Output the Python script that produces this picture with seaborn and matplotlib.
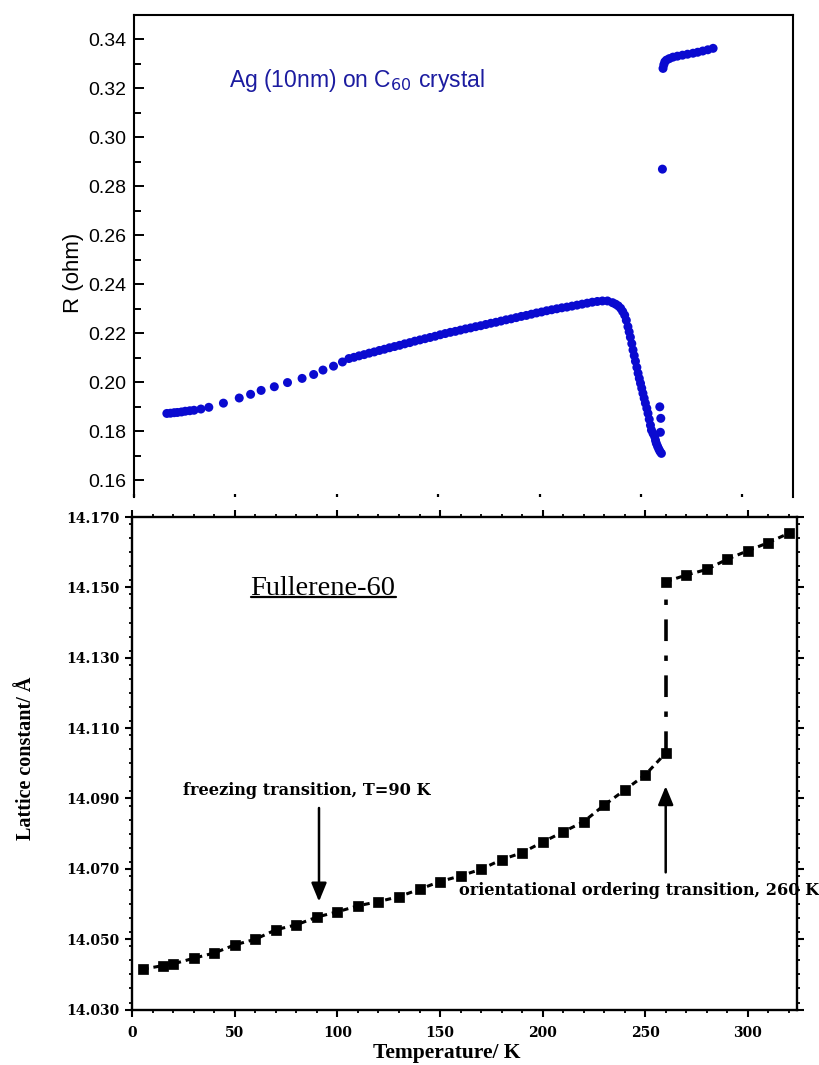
import matplotlib
matplotlib.use("Agg")
import numpy as np
import pandas as pd
import matplotlib.pyplot as plt
import seaborn as sns
from matplotlib.ticker import MultipleLocator, NullFormatter
from matplotlib.lines import Line2D

# ---------------- top panel data: R(T) of Ag (10nm) on C60 ----------------
temp_r = [16.2, 18.0, 19.8, 21.4, 23.4, 25.3, 27.5, 29.6, 33.0, 36.9, 44.1, 51.9,
          57.5, 62.7, 69.2, 75.7, 82.9, 88.6, 93.2, 98.4, 102.8,
          106.0, 108.5, 111.0, 113.5, 116.0, 118.5, 121.0, 123.5, 126.0, 128.5,
          131.0, 133.5, 136.0, 138.5, 141.0, 143.5, 146.0, 148.5, 151.0, 153.5,
          156.0, 158.5, 161.0, 163.5, 166.0, 168.5, 171.0, 173.5, 176.0, 178.5,
          181.0, 183.5, 186.0, 188.5, 191.0, 193.5, 196.0, 198.5, 201.0, 203.5,
          206.0, 208.5, 211.0, 213.5, 216.0, 218.5, 221.0, 223.5, 226.0, 228.5,
          231.0, 233.5,
          236.0, 237.5, 238.8, 240.0, 241.0, 242.0, 242.8, 243.6, 244.2, 244.8,
          245.5, 246.1, 246.7, 247.3, 248.0, 248.6, 249.2, 249.8, 250.4, 251.0,
          251.6, 252.2, 252.9, 253.5, 254.1, 254.7, 255.2, 256.0, 256.8, 257.2,
          257.6, 258.2, 258.8, 259.4, 260.1,
          259.3, 259.8, 259.6,
          260.6,
          260.9, 261.3, 261.8, 262.6, 264.0, 265.8, 268.0, 270.5, 273.0, 275.7,
          278.0, 280.5, 283.0, 285.6]
res_r = [0.1872, 0.1873, 0.1875, 0.1876, 0.1878, 0.1881, 0.1883, 0.1885, 0.1890,
         0.1897, 0.1914, 0.1935, 0.1950, 0.1966, 0.1981, 0.1998, 0.2015, 0.2031,
         0.2049, 0.2065, 0.2082,
         0.2096, 0.2101, 0.2107, 0.2112, 0.2118, 0.2123, 0.2129, 0.2134, 0.2140,
         0.2145, 0.2150, 0.2156, 0.2161, 0.2167, 0.2172, 0.2177, 0.2182, 0.2187,
         0.2193, 0.2198, 0.2203, 0.2207, 0.2212, 0.2217, 0.2221, 0.2226, 0.2230,
         0.2235, 0.2240, 0.2244, 0.2249, 0.2254, 0.2258, 0.2263, 0.2268, 0.2272,
         0.2277, 0.2282, 0.2286, 0.2291, 0.2295, 0.2299, 0.2303, 0.2306, 0.2310,
         0.2314, 0.2318, 0.2322, 0.2326, 0.2329, 0.2331, 0.2331,
         0.2324, 0.2318, 0.2311, 0.2301, 0.2288, 0.2273, 0.2252, 0.2226, 0.2205,
         0.2183, 0.2157, 0.2131, 0.2108, 0.2085, 0.2060, 0.2036, 0.2015, 0.1995,
         0.1975, 0.1954, 0.1934, 0.1914, 0.1893, 0.1872, 0.1848, 0.1824, 0.1804,
         0.1790, 0.1777, 0.1762, 0.1750, 0.1738, 0.1727, 0.1717, 0.1709,
         0.1899, 0.1852, 0.1795,
         0.2869,
         0.3280, 0.3295, 0.3307, 0.3314, 0.3320, 0.3326, 0.3330, 0.3334, 0.3338,
         0.3342, 0.3346, 0.3351, 0.3356, 0.3362]

r_yticks = [0.16, 0.18, 0.20, 0.22, 0.24, 0.26, 0.28, 0.30, 0.32, 0.34]
temp_ticks = [0, 50, 100, 150, 200, 250, 300]

# ---------------- bottom panel data: lattice constant of C60 ----------------
temp_lat_low = [5, 15, 20, 30, 40, 50, 60, 70, 80, 90, 100, 110, 120, 130, 140,
                150, 160, 170, 180, 190, 200, 210, 220, 230, 240, 250, 260]
lat_low = [14.0415, 14.0425, 14.0430, 14.0446, 14.0461, 14.0484, 14.0500,
           14.0527, 14.0541, 14.0563, 14.0578, 14.0595, 14.0607, 14.0621,
           14.0642, 14.0664, 14.0680, 14.0699, 14.0726, 14.0746, 14.0776,
           14.0805, 14.0834, 14.0881, 14.0924, 14.0967, 14.1029]
temp_lat_high = [260, 270, 280, 290, 300, 310, 320]
lat_high = [14.1516, 14.1535, 14.1551, 14.1580, 14.1604, 14.1627, 14.1654]

lat_yticks = [14.030, 14.050, 14.070, 14.090, 14.110, 14.130, 14.150, 14.170]

# annotation anchors (data coords)
freeze_T, freeze_from, freeze_to = 91, 14.0873, 14.0607
order_T, order_from, order_to = 260, 14.0690, 14.0935

df_r = pd.DataFrame({"T": temp_r, "R": res_r})
df_low = pd.DataFrame({"T": temp_lat_low, "L": lat_low})
df_high = pd.DataFrame({"T": temp_lat_high, "L": lat_high})

sns.set_theme(style="white")
plt.rcParams["font.family"] = ["Liberation Sans", "DejaVu Sans"]

W, H = 820, 1065
fig = plt.figure(figsize=(W / 100, H / 100), dpi=100)
fig.patch.set_facecolor("white")

# ================= top panel =================
ax1 = fig.add_axes([134 / W, 568 / H, 659 / W, 482 / H])
ax1.set_facecolor("white")
sns.scatterplot(data=df_r, x="T", y="R", ax=ax1, s=42, color="#0a0ad0",
                edgecolor="none", linewidth=0, zorder=3)
ax1.set_xlim(0, 325)
ax1.set_ylim(0.1531, 0.3498)
for side in ["left", "right", "top"]:
    ax1.spines[side].set_color("black")
    ax1.spines[side].set_linewidth(1.5)
ax1.spines["bottom"].set_visible(False)
ax1.set_yticks(r_yticks, labels=[f"{v:.2f}" for v in r_yticks])
ax1.yaxis.set_minor_locator(MultipleLocator(0.01))
ax1.tick_params(axis="y", which="major", direction="in", length=7.5, width=1.4,
                color="black", labelsize=14, pad=5.5, labelcolor="black",
                left=True, right=False)
ax1.tick_params(axis="y", which="minor", direction="in", length=5, width=1.4,
                color="black", left=True, right=False)
ax1.set_xticks(temp_ticks)
ax1.xaxis.set_major_formatter(NullFormatter())
ax1.tick_params(axis="x", which="major", direction="in", length=2, width=1.6,
                color="black", bottom=True, top=False)
ax1.set_xlabel("")
ax1.set_ylabel("R (ohm)", fontsize=16, color="black", va="center")
ax1.yaxis.set_label_coords(-0.092, 0.465)
ax1.text(0.1446, 0.8512, r"Ag (10nm) on C$_{60}$ crystal", transform=ax1.transAxes,
         fontsize=16.5, color="#1c1ca0", ha="left", va="baseline")

# ================= bottom panel =================
ax2 = fig.add_axes([132.3 / W, 55.4 / H, 664.7 / W, 492.6 / H])
ax2.set_facecolor("white")
line_kw = dict(color="black", marker="s", markersize=7.2, markeredgecolor="black",
               markeredgewidth=0.5, linewidth=2.2, linestyle=(0, (2.0, 1.6)),
               sort=False, estimator=None)
sns.lineplot(data=df_low, x="T", y="L", ax=ax2, **line_kw)
sns.lineplot(data=df_high, x="T", y="L", ax=ax2, **line_kw)
# dash-dot jump at the orientational ordering transition
ax2.plot([temp_lat_low[-1], temp_lat_high[0]], [lat_low[-1], lat_high[0]],
         color="black", linewidth=2.6, linestyle=(0, (6, 4, 1.5, 4)))
ax2.set_xlim(0, 324)
ax2.set_ylim(14.030, 14.170)
for side in ["left", "right", "top", "bottom"]:
    ax2.spines[side].set_color("black")
    ax2.spines[side].set_linewidth(1.7)

serif_tick = dict(fontfamily="DejaVu Serif", fontweight="bold", fontsize=10)
ax2.set_yticks(lat_yticks, labels=[f"{v:.3f}" for v in lat_yticks], **serif_tick)
ax2.set_xticks(temp_ticks, labels=[str(v) for v in temp_ticks], **serif_tick)
ax2.xaxis.set_minor_locator(MultipleLocator(10))
ax2.yaxis.set_minor_locator(MultipleLocator(0.004))
ax2.tick_params(axis="both", which="major", direction="out", length=5, width=1.5,
                color="black", labelcolor="black", left=True, bottom=True,
                right=True, top=True)
ax2.tick_params(axis="both", which="minor", direction="out", length=2.5, width=1.3,
                color="black", left=True, bottom=True, right=True, top=True)
ax2.tick_params(axis="y", which="major", pad=4)
ax2.tick_params(axis="x", which="major", pad=7)

ax2.set_xlabel("Temperature/ K", fontfamily="Liberation Serif", fontweight="bold",
               fontsize=15.5, color="black")
ax2.xaxis.set_label_coords(0.4735, -0.068)
ax2.set_ylabel("Lattice constant/ Å", fontfamily="Liberation Serif",
               fontweight="bold", fontsize=14.5, color="black", va="center")
ax2.yaxis.set_label_coords(-0.160, 0.511)

title_txt = ax2.text(0.178, 0.8417, "Fullerene-60", transform=ax2.transAxes,
                     fontfamily="Liberation Serif", fontsize=20.5, color="black",
                     ha="left", va="baseline")

ann_font = dict(fontfamily="DejaVu Serif", fontweight="bold", fontsize=11.6,
                color="black")
ax2.text(0.0763, 0.4357, "freezing transition, T=90 K", transform=ax2.transAxes,
         ha="left", va="baseline", **ann_font)
ax2.text(0.4915, 0.232, "orientational ordering transition, 260 K",
         transform=ax2.transAxes, ha="left", va="baseline", clip_on=False,
         **ann_font)

arrow_kw = dict(arrowstyle="-|>,head_length=0.8,head_width=0.33", color="black",
                lw=1.8, mutation_scale=14, shrinkA=0, shrinkB=0)
ax2.annotate("", xy=(freeze_T, freeze_to), xytext=(freeze_T, freeze_from),
             arrowprops=arrow_kw)
ax2.annotate("", xy=(order_T, order_to), xytext=(order_T, order_from),
             arrowprops=arrow_kw)

# underline for the panel title
fig.canvas.draw()
bb = title_txt.get_window_extent(fig.canvas.get_renderer())
base_y = ax2.transAxes.transform((0, 0.8417))[1]
inv = fig.transFigure.inverted()
(x0, y0) = inv.transform((bb.x0, base_y - 2.5))
(x1, _) = inv.transform((bb.x1, base_y - 2.5))
fig.add_artist(Line2D([x0, x1], [y0, y0], transform=fig.transFigure,
                      color="black", linewidth=1.6))

fig.savefig("out.png", dpi=100, facecolor="white")
